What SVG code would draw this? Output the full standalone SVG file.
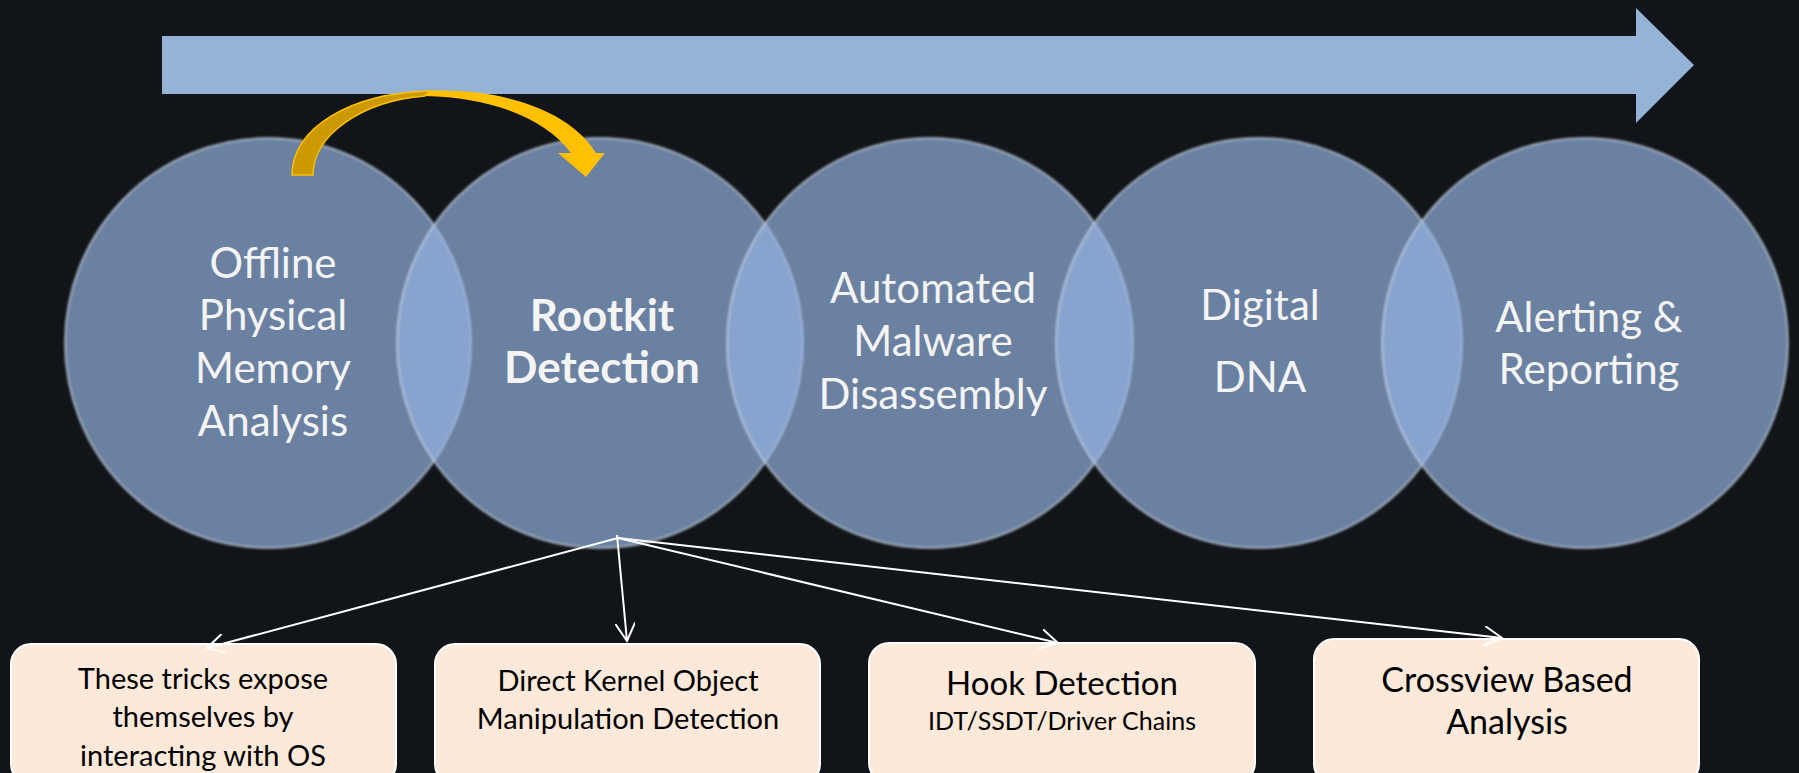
<svg xmlns="http://www.w3.org/2000/svg" width="1799" height="773" viewBox="0 0 1799 773">
  <style>
    .circ { fill: rgb(151,180,227); fill-opacity: 0.68; stroke: rgb(200,215,225); stroke-opacity: 0.55; stroke-width: 2.5; }
    .ctext { font-family: Lato, "Open Sans", sans-serif; font-size: 42px; fill: #f4f4f4; text-anchor: middle; }
    .bold { font-weight: bold; font-size: 44px; }
    .box { fill: #fde9d9; stroke: #ffffff; stroke-width: 2; }
    .btext { font-family: Lato, "Open Sans", sans-serif; fill: #000000; text-anchor: middle; }
    .conn { stroke: #ffffff; stroke-width: 2; fill: none; marker-end: url(#openArrow); }
  </style>
  <defs>
    <marker id="openArrow" viewBox="0 0 20 20" refX="18" refY="10" markerWidth="20" markerHeight="20" markerUnits="userSpaceOnUse" orient="auto">
      <polyline points="0,0 18,10 0,20" fill="none" stroke="#ffffff" stroke-width="2"/>
    </marker>
    <filter id="soft" x="-5%" y="-5%" width="110%" height="110%">
      <feGaussianBlur stdDeviation="1.2"/>
    </filter>
  </defs>

  <rect x="0" y="0" width="1799" height="773" fill="#111418"/>

  <!-- Big process arrow -->
  <g id="process-arrow">
    <polygon points="162,36 1636,36 1636,8 1694,65 1636,123 1636,94 162,94" fill="#95b3d7"/>
  </g>

  <!-- Circles -->
  <g id="circle-offline">
    <ellipse class="circ" cx="268" cy="343" rx="203" ry="205" filter="url(#soft)"/>
  </g>
  <g id="circle-rootkit">
    <ellipse class="circ" cx="600" cy="343" rx="203" ry="205" filter="url(#soft)"/>
  </g>
  <g id="circle-automated">
    <ellipse class="circ" cx="930" cy="343" rx="203" ry="205" filter="url(#soft)"/>
  </g>
  <g id="circle-dna">
    <ellipse class="circ" cx="1259" cy="343" rx="203" ry="205" filter="url(#soft)"/>
  </g>
  <g id="circle-alerting">
    <ellipse class="circ" cx="1585" cy="343" rx="203" ry="205" filter="url(#soft)"/>
  </g>

  <!-- Circle labels -->
  <g id="label-offline" class="ctext">
    <text x="273" y="278">Offline</text>
    <text x="273" y="330">Physical</text>
    <text x="273" y="383">Memory</text>
    <text x="273" y="436">Analysis</text>
  </g>
  <g id="label-rootkit" class="ctext bold">
    <text x="602" y="331">Rootkit</text>
    <text x="602" y="383">Detection</text>
  </g>
  <g id="label-automated" class="ctext">
    <text x="933" y="303">Automated</text>
    <text x="933" y="356">Malware</text>
    <text x="933" y="409">Disassembly</text>
  </g>
  <g id="label-dna" class="ctext">
    <text x="1260" y="320">Digital</text>
    <text x="1260" y="392">DNA</text>
  </g>
  <g id="label-alerting" class="ctext">
    <text x="1589" y="332">Alerting &amp;</text>
    <text x="1589" y="384">Reporting</text>
  </g>

  <!-- Yellow curved arrow -->
  <g id="curved-arrow">
    <path d="M 425,91 C 500,87 570,110 596,153 L 571,153 C 545,118 490,97 425,96 Z" fill="#ffc000"/>
    <polygon points="558,153 605,153 586,177" fill="#ffc000"/>
    <path d="M 292,175 C 292,128 350,93 430,91 L 425,96 C 362,101 313,135 313,175 Z" fill="#cc9a00" stroke="#ffc000" stroke-width="1.5"/>
  </g>

  <!-- Boxes -->
  <g id="box-tricks">
    <rect class="box" x="11" y="644" width="385" height="140" rx="20"/>
    <text class="btext" font-size="29" x="203" y="689">These tricks expose</text>
    <text class="btext" font-size="29" x="203" y="727">themselves by</text>
    <text class="btext" font-size="29" x="203" y="766">interacting with OS</text>
  </g>
  <g id="box-dkom">
    <rect class="box" x="435" y="644" width="385" height="140" rx="20"/>
    <text class="btext" font-size="29" x="628" y="691">Direct Kernel Object</text>
    <text class="btext" font-size="29" x="628" y="729">Manipulation Detection</text>
  </g>
  <g id="box-hook">
    <rect class="box" x="869" y="643" width="386" height="140" rx="20"/>
    <text class="btext" font-size="33" x="1062" y="695">Hook Detection</text>
    <text class="btext" font-size="25" x="1062" y="730">IDT/SSDT/Driver Chains</text>
  </g>
  <g id="box-crossview">
    <rect class="box" x="1314" y="639" width="385" height="145" rx="20"/>
    <text class="btext" font-size="34" x="1507" y="692">Crossview Based</text>
    <text class="btext" font-size="34" x="1507" y="734">Analysis</text>
  </g>

  <!-- Connectors -->
  <g id="connectors">
    <line class="conn" x1="618" y1="538" x2="207" y2="648"/>
    <line class="conn" x1="617" y1="535" x2="627" y2="641"/>
    <line class="conn" x1="618" y1="538" x2="1058" y2="643"/>
    <line class="conn" x1="618" y1="538" x2="1502" y2="638"/>
  </g>
</svg>
